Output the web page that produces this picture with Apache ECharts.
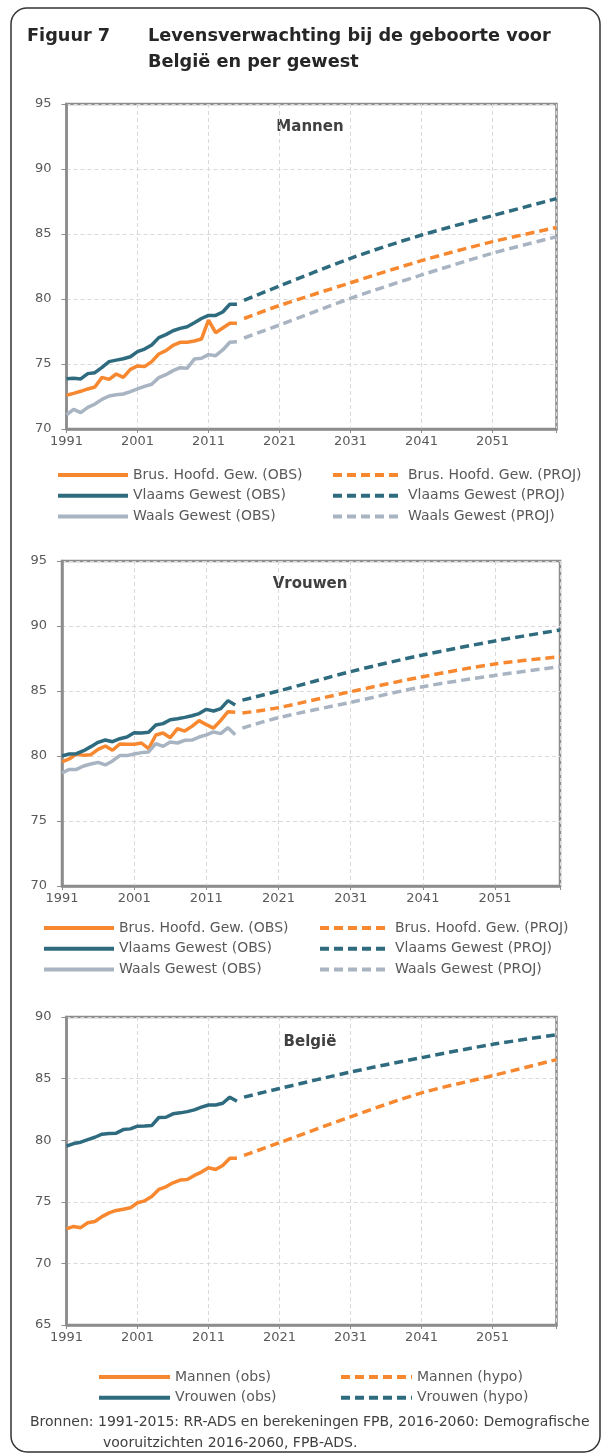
<!DOCTYPE html>
<html>
<head>
<meta charset="utf-8">
<script src="https://cdn.jsdelivr.net/npm/echarts@6.0.0/dist/echarts.min.js"></script>
<style>
  html, body { margin: 0; padding: 0; background: #fff; }
  #charts { width: 602px; height: 1454px; }
</style>
</head>
<body>
<div id="charts"></div>
<script>
// jaren
var BASE = 1991;
var obsYears = [1991,1992,1993,1994,1995,1996,1997,1998,1999,2000,2001,2002,2003,2004,2005,2006,2007,2008,2009,2010,2011,2012,2013,2014,2015];
var projYears = [2016, 2021, 2031, 2041, 2051, 2060];

// Mannen
var menBruObs = [72.6,72.74,72.9,73.08,73.23,73.97,73.82,74.23,73.97,74.59,74.85,74.8,75.18,75.77,76.03,76.44,76.67,76.67,76.77,76.92,78.38,77.41,77.77,78.13,78.13];
var menVlaObs = [73.87,73.9,73.85,74.26,74.33,74.74,75.18,75.3,75.4,75.56,75.95,76.15,76.46,77.03,77.26,77.56,77.74,77.87,78.18,78.5,78.74,78.74,79.0,79.6,79.6];
var menWaaObs = [71.08,71.51,71.26,71.67,71.92,72.28,72.54,72.64,72.69,72.87,73.08,73.28,73.44,73.95,74.18,74.49,74.72,74.67,75.38,75.44,75.72,75.64,76.08,76.67,76.72];
var menBruProj = [78.5, 79.5, 81.25, 82.95, 84.41, 85.5];
var menVlaProj = [79.9, 81.0, 83.13, 84.92, 86.41, 87.72];
var menWaaProj = [77.0, 78.0, 80.05, 81.85, 83.52, 84.79];

// Vrouwen
var womBruObs = [79.54,79.77,80.15,80.05,80.1,80.51,80.77,80.44,80.92,80.9,80.9,81.0,80.56,81.62,81.77,81.41,82.1,81.92,82.28,82.72,82.41,82.15,82.74,83.41,83.36];
var womVlaObs = [80.0,80.15,80.18,80.41,80.72,81.05,81.23,81.1,81.33,81.46,81.79,81.77,81.82,82.38,82.49,82.79,82.87,82.97,83.1,83.26,83.59,83.46,83.64,84.26,83.92];
var womWaaObs = [78.69,78.97,78.97,79.23,79.38,79.51,79.31,79.62,80.03,80.03,80.15,80.26,80.31,80.95,80.74,81.08,81.0,81.21,81.23,81.46,81.62,81.85,81.72,82.18,81.64];
var womBruProj = [83.3, 83.72, 84.95, 86.1, 87.08, 87.64];
var womVlaProj = [84.3, 85.0, 86.49, 87.77, 88.85, 89.69];
var womWaaProj = [82.15, 82.95, 84.13, 85.33, 86.2, 86.87];

// België
var belMenObs = [72.8,73.0,72.9,73.3,73.4,73.8,74.1,74.3,74.4,74.51,74.92,75.08,75.43,76.0,76.22,76.54,76.76,76.81,77.14,77.41,77.76,77.62,77.95,78.54,78.54];
var belWomObs = [79.51,79.73,79.84,80.05,80.24,80.49,80.54,80.57,80.86,80.92,81.14,81.16,81.19,81.84,81.86,82.14,82.22,82.32,82.46,82.68,82.86,82.86,83.0,83.49,83.16];
var belMenProj = [78.76, 79.8, 81.9, 83.84, 85.24, 86.54];
var belWomProj = [83.5, 84.2, 85.53, 86.7, 87.78, 88.55];

var namesReg = ['Brus. Hoofd. Gew. (OBS)', 'Vlaams Gewest (OBS)', 'Waals Gewest (OBS)',
                'Brus. Hoofd. Gew. (PROJ)', 'Vlaams Gewest (PROJ)', 'Waals Gewest (PROJ)'];
var namesBel = ['Mannen (obs)', 'Vrouwen (obs)', 'Mannen (hypo)', 'Vrouwen (hypo)'];

var ORANGE = '#f7882f', TEAL = '#2f6b7f', GREY = '#a9b4c2';
var FONT = 'DejaVu Sans';
var AXIS = '#8c8c8c', TXT = '#595959';

function pairs(years, vals) {
    return years.map(function (y, i) { return [y - BASE, vals[i]]; });
}

function line(name, gi, years, vals, color, dashed) {
    return {
        name: name, type: 'line', xAxisIndex: gi, yAxisIndex: gi,
        data: pairs(years, vals), symbol: 'none', smooth: dashed ? 0.3 : false,
        lineStyle: { color: color, width: 3.5, type: dashed ? [9, 5] : 'solid' },
        itemStyle: { color: color }, silent: true
    };
}

function xAx(gi) {
    return {
        gridIndex: gi, type: 'value', min: 0, max: 69, interval: 10,
        axisLine: { show: true, lineStyle: { color: AXIS, width: 2.5 } },
        axisTick: { show: true, length: 4, lineStyle: { color: AXIS, width: 1 } },
        axisLabel: { margin: 6, fontSize: 13, color: TXT, fontFamily: FONT,
            formatter: function (v) { return v > 60 ? '' : String(BASE + v); } },
        splitLine: { show: true, lineStyle: { color: '#d9d9d9', type: [4, 3], width: 1 } }
    };
}

function yAx(gi, min, max) {
    return {
        gridIndex: gi, type: 'value', min: min, max: max, interval: 5,
        axisLine: { show: true, lineStyle: { color: AXIS, width: 2.5 } },
        axisTick: { show: true, length: 5, lineStyle: { color: AXIS, width: 1 } },
        axisLabel: { margin: 15, fontSize: 13, color: TXT, fontFamily: FONT },
        splitLine: { show: true, lineStyle: { color: '#d9d9d9', type: [4, 3], width: 1 } }
    };
}

function leg(names, left, top, w) {
    return {
        data: names, left: left, top: top, orient: 'vertical', padding: 0,
        itemWidth: w, itemHeight: 14, itemGap: 6.8, selectedMode: false,
        itemStyle: { opacity: 0 }, lineStyle: { width: 4 },
        textStyle: { fontSize: 14, color: TXT, fontFamily: FONT, lineHeight: 14 }
    };
}

function gridBox(left, top, width, height) {
    return { left: left, top: top, width: width, height: height, show: true,
        borderColor: AXIS, borderWidth: 2.5, containLabel: false };
}

var myChart = echarts.init(document.getElementById('charts'), null, { renderer: 'canvas' });

var option = {
    backgroundColor: '#fff',
    animation: false,
    grid: [
        gridBox(66.5, 104, 490, 325),
        gridBox(62, 561, 498, 325),
        gridBox(66.5, 1017, 490, 308)
    ],
    xAxis: [xAx(0), xAx(1), xAx(2)],
    yAxis: [yAx(0, 70, 95), yAx(1, 70, 95), yAx(2, 65, 90)],
    legend: [
        leg(namesReg.slice(0, 3), 56, 468, 70),
        leg(namesReg.slice(3), 331, 468, 70),
        leg(namesReg.slice(0, 3), 42, 921, 70),
        leg(namesReg.slice(3), 318, 921, 70),
        leg(namesBel.slice(0, 2), 97, 1370, 71),
        leg(namesBel.slice(2), 339, 1370, 71)
    ],
    series: [
        line(namesReg[0], 0, obsYears, menBruObs, ORANGE, false),
        line(namesReg[1], 0, obsYears, menVlaObs, TEAL, false),
        line(namesReg[2], 0, obsYears, menWaaObs, GREY, false),
        line(namesReg[3], 0, projYears, menBruProj, ORANGE, true),
        line(namesReg[4], 0, projYears, menVlaProj, TEAL, true),
        line(namesReg[5], 0, projYears, menWaaProj, GREY, true),

        line(namesReg[0], 1, obsYears, womBruObs, ORANGE, false),
        line(namesReg[1], 1, obsYears, womVlaObs, TEAL, false),
        line(namesReg[2], 1, obsYears, womWaaObs, GREY, false),
        line(namesReg[3], 1, projYears, womBruProj, ORANGE, true),
        line(namesReg[4], 1, projYears, womVlaProj, TEAL, true),
        line(namesReg[5], 1, projYears, womWaaProj, GREY, true),

        line(namesBel[0], 2, obsYears, belMenObs, ORANGE, false),
        line(namesBel[1], 2, obsYears, belWomObs, TEAL, false),
        line(namesBel[2], 2, projYears, belMenProj, ORANGE, true),
        line(namesBel[3], 2, projYears, belWomProj, TEAL, true)
    ],
    graphic: [
        // kader
        { type: 'rect', shape: { x: 11, y: 8, width: 589, height: 1444, r: 16 },
          style: { fill: 'none', stroke: '#333', lineWidth: 1.5 }, silent: true },
        { type: 'text', x: 27, y: 36, style: { text: 'Figuur 7', font: 'bold 17.7px "DejaVu Sans"', fill: '#262626', verticalAlign: 'middle' } },
        { type: 'text', x: 148, y: 36, style: { text: 'Levensverwachting bij de geboorte voor', font: 'bold 17.7px "DejaVu Sans"', fill: '#262626', verticalAlign: 'middle' } },
        { type: 'text', x: 148, y: 62, style: { text: 'België en per gewest', font: 'bold 17.7px "DejaVu Sans"', fill: '#262626', verticalAlign: 'middle' } },
        { type: 'text', x: 310, y: 127, style: { text: 'Mannen', font: 'bold 15px "DejaVu Sans"', fill: '#404040', align: 'center', verticalAlign: 'middle' } },
        { type: 'text', x: 310, y: 584, style: { text: 'Vrouwen', font: 'bold 15px "DejaVu Sans"', fill: '#404040', align: 'center', verticalAlign: 'middle' } },
        { type: 'text', x: 310, y: 1042, style: { text: 'België', font: 'bold 15px "DejaVu Sans"', fill: '#404040', align: 'center', verticalAlign: 'middle' } },
        { type: 'text', x: 30, y: 1422, style: { text: 'Bronnen: 1991-2015: RR-ADS en berekeningen FPB, 2016-2060: Demografische',
            font: '14px "DejaVu Sans"', fill: '#404040', verticalAlign: 'middle' } },
        { type: 'text', x: 103, y: 1443, style: { text: 'vooruitzichten 2016-2060, FPB-ADS.',
            font: '14px "DejaVu Sans"', fill: '#404040', verticalAlign: 'middle' } }
    ]
};

myChart.setOption(option);
window.addEventListener('resize', function () {
    myChart.resize();
});
</script>
</body>
</html>
